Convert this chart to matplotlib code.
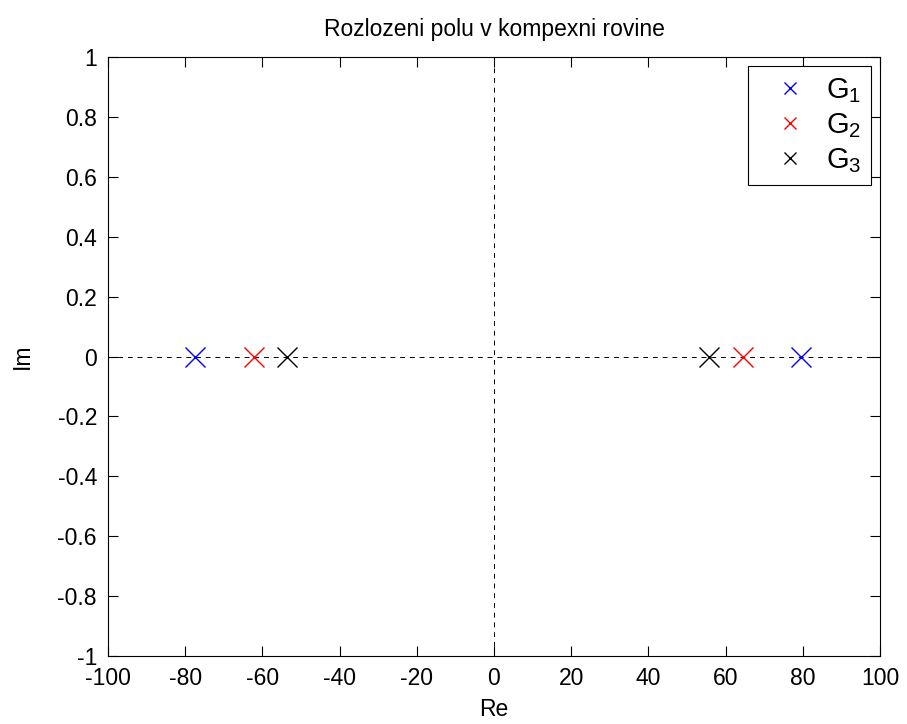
import matplotlib
matplotlib.use("Agg")
import matplotlib.pyplot as plt

plt.rcParams['font.family'] = ['Liberation Sans', 'DejaVu Sans']
plt.rcParams['mathtext.fontset'] = 'custom'
plt.rcParams['mathtext.rm'] = 'Liberation Sans'

# Pole positions (real parts; imaginary parts are zero)
g1_re = [-77.5, 79.5]
g2_re = [-62.3, 64.6]
g3_re = [-53.6, 55.8]
im = [0, 0]

series_labels = [r'G$_{\mathregular{1}}$', r'G$_{\mathregular{2}}$', r'G$_{\mathregular{3}}$']
series_colors = ['#0000ff', '#ff0000', '#000000']

xticks = [-100, -80, -60, -40, -20, 0, 20, 40, 60, 80, 100]
yticks = [-1, -0.8, -0.6, -0.4, -0.2, 0, 0.2, 0.4, 0.6, 0.8, 1]

fig = plt.figure(figsize=(9.07, 7.24), dpi=100)
ax = fig.add_axes([108/907, 1-656/724, (880-108)/907, (656-57)/724])

ax.axhline(0, color='black', lw=0.7, dashes=(5, 5), zorder=1)
ax.axvline(0, color='black', lw=0.7, dashes=(5, 5), zorder=1)

handles = []
for re, lab, col in zip([g1_re, g2_re, g3_re], series_labels, series_colors):
    h, = ax.plot(re, im, linestyle='none', marker='x', markersize=14.5,
                 markeredgewidth=1.0, color=col, label=lab, zorder=3)
    handles.append(h)

ax.set_xlim(-100, 100)
ax.set_ylim(-1, 1)
ax.set_xticks(xticks)
ax.set_yticks(yticks)
ax.set_xticklabels([f'{t:g}' for t in xticks])
ax.set_yticklabels([f'{t:g}' for t in yticks])
ax.tick_params(direction='in', length=7, width=0.8, top=True, right=True,
               labelsize=16.5)
ax.tick_params(axis='x', pad=8)
ax.tick_params(axis='y', pad=8)
for s in ax.spines.values():
    s.set_linewidth(0.8)

ax.set_xlabel('Re', fontsize=16.5, labelpad=6)
ax.set_ylabel('Im', fontsize=16.5, labelpad=17)
ax.set_title('Rozlozeni polu v kompexni rovine', fontsize=16.5, pad=15)

leg = ax.legend(handles=handles, loc='upper right', fontsize=21,
                markerscale=0.6, frameon=True, fancybox=False, edgecolor='black',
                framealpha=1, borderpad=0.35, labelspacing=0.22, handlelength=2.15,
                handletextpad=0.15, borderaxespad=0.3)
leg.get_frame().set_linewidth(0.8)

fig.savefig('out.png', dpi=100)
